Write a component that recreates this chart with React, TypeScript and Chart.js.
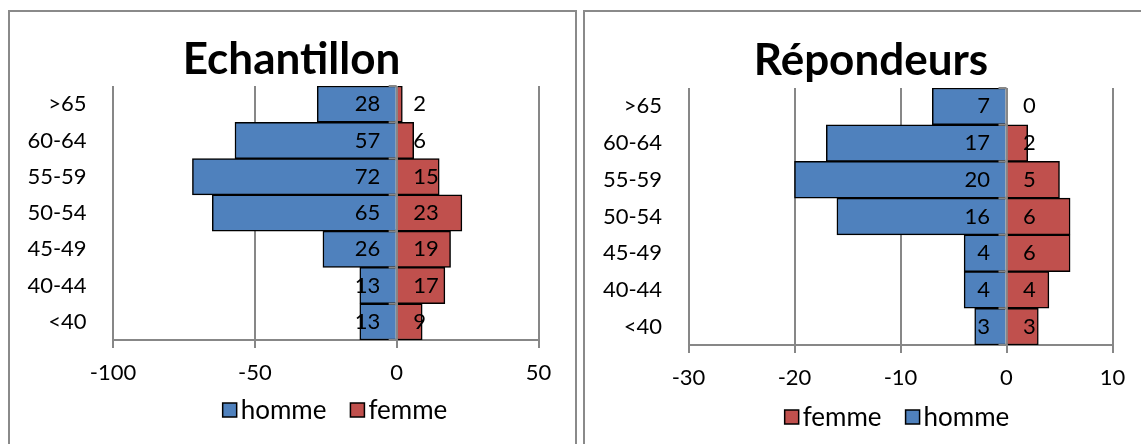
import React, { useEffect, useRef } from 'react';
import { Chart, registerables } from 'chart.js';

Chart.register(...registerables);

// ---- Data ----
const ageGroups = ['>65', '60-64', '55-59', '50-54', '45-49', '40-44', '<40'];

const echantillonHomme = [28, 57, 72, 65, 26, 13, 13];
const echantillonFemme = [2, 6, 15, 23, 19, 17, 9];
const echantillonTicks = [-100, -50, 0, 50];

const repondeursHomme = [7, 17, 20, 16, 4, 4, 3];
const repondeursFemme = [0, 2, 5, 6, 6, 4, 3];
const repondeursTicks = [-30, -20, -10, 0, 10];

// ---- Styles ----
const BLUE = '#4F81BD';
const RED = '#C0504D';
const GRID = '#878787';
const FONT = 'Lato, Carlito, Calibri, "Noto Sans", sans-serif';

type Layout = {
  W: number;
  H: number;
  padT: number;
  padR: number;
  padB: number;
  yW: number;
  xH: number;
  titleX: number;
  titleY: number;
  legendX: number;
  legendY: number;
};

type Spec = {
  title: string;
  homme: number[];
  femme: number[];
  ticks: number[];
  legendOrder: string[];
  layout: Layout;
};

const zeroAxisPlugin = {
  id: 'zeroAxis',
  afterDatasetsDraw(chart: any) {
    const { ctx, chartArea } = chart;
    const xs = chart.scales.x;
    const ys = chart.scales.y;
    const x0 = xs.getPixelForValue(0);
    ctx.save();
    ctx.strokeStyle = GRID;
    ctx.lineWidth = 2;
    ctx.beginPath();
    ctx.moveTo(x0, chartArea.top);
    ctx.lineTo(x0, chartArea.bottom);
    ctx.stroke();
    const n = ys.ticks.length;
    const bounds: number[] = [chartArea.top];
    for (let i = 0; i < n - 1; i++) {
      bounds.push((ys.getPixelForTick(i) + ys.getPixelForTick(i + 1)) / 2);
    }
    bounds.push(chartArea.bottom);
    ctx.beginPath();
    for (const b of bounds) {
      ctx.moveTo(x0 - 8, b);
      ctx.lineTo(x0, b);
    }
    ctx.stroke();
    ctx.restore();
  },
};

const dataLabelPlugin = {
  id: 'dataLabels',
  afterDatasetsDraw(chart: any) {
    const { ctx } = chart;
    const xs = chart.scales.x;
    const x0 = xs.getPixelForValue(0);
    ctx.save();
    ctx.font = `22px ${FONT}`;
    ctx.fillStyle = '#000';
    ctx.textBaseline = 'middle';
    chart.data.datasets.forEach((ds: any, di: number) => {
      const meta = chart.getDatasetMeta(di);
      const isHomme = ds.label === 'homme';
      ctx.textAlign = isHomme ? 'right' : 'left';
      meta.data.forEach((el: any, i: number) => {
        const v = Math.abs(ds.data[i]);
        ctx.fillText(String(v), isHomme ? x0 - 16.5 : x0 + 16.5, el.y);
      });
    });
    ctx.restore();
  },
};

function makeTitlePlugin(text: string, x: number, y: number) {
  return {
    id: 'customTitle',
    afterDraw(chart: any) {
      const { ctx } = chart;
      ctx.save();
      ctx.font = `bold 44px ${FONT}`;
      ctx.fillStyle = '#000';
      ctx.textAlign = 'center';
      ctx.textBaseline = 'middle';
      ctx.fillText(text, x, y);
      ctx.restore();
    },
  };
}

function makeLegendPlugin(order: string[], cx: number, cy: number) {
  return {
    id: 'customLegend',
    afterDraw(chart: any) {
      const { ctx } = chart;
      ctx.save();
      ctx.font = `26px ${FONT}`;
      ctx.textBaseline = 'middle';
      ctx.textAlign = 'left';
      const box = 14;
      const gap = 4;
      const itemGap = 24;
      const items = order.map((name) => {
        const ds = chart.data.datasets.find((d: any) => d.label === name);
        return { name, color: ds.backgroundColor, w: ctx.measureText(name).width };
      });
      const total =
        items.reduce((s, it) => s + box + gap + it.w, 0) + itemGap * (items.length - 1);
      let x = cx - total / 2;
      for (const it of items) {
        ctx.fillStyle = it.color;
        ctx.fillRect(x, cy - box / 2, box, box);
        ctx.strokeStyle = '#000';
        ctx.lineWidth = 1.5;
        ctx.strokeRect(x, cy - box / 2, box, box);
        ctx.fillStyle = '#000';
        ctx.fillText(it.name, x + box + gap, cy + 1);
        x += box + gap + it.w + itemGap;
      }
      ctx.restore();
    },
  };
}

function buildConfig(spec: Spec): any {
  const L = spec.layout;
  const t = spec.ticks;
  const bar = {
    barPercentage: 1,
    categoryPercentage: 1,
    borderColor: '#000',
    borderWidth: 1.5,
    borderSkipped: 'start',
  };
  return {
    type: 'bar',
    data: {
      labels: ageGroups,
      datasets: [
        { label: 'homme', data: spec.homme.map((v) => -v), backgroundColor: BLUE, ...bar },
        { label: 'femme', data: spec.femme, backgroundColor: RED, ...bar },
      ],
    },
    options: {
      indexAxis: 'y',
      animation: false,
      responsive: false,
      devicePixelRatio: 1,
      events: [],
      layout: { padding: { left: 0, right: L.padR, top: L.padT, bottom: L.padB } },
      plugins: {
        title: { display: false },
        legend: { display: false },
        tooltip: { enabled: false },
      },
      scales: {
        x: {
          type: 'linear',
          stacked: true,
          min: t[0],
          max: t[t.length - 1],
          ticks: {
            stepSize: t[1] - t[0],
            color: '#000',
            font: { family: FONT, size: 22 },
            padding: 12,
            maxRotation: 0,
            autoSkip: false,
            callback: (v: any) => String(v),
          },
          grid: { color: GRID, lineWidth: 2, drawTicks: true, tickLength: 8 },
          border: { display: true, color: GRID, width: 2 },
          afterFit: (s: any) => {
            s.height = L.xH;
          },
        },
        y: {
          type: 'category',
          stacked: true,
          ticks: { color: '#000', font: { family: FONT, size: 22 }, padding: 26.4 },
          grid: { display: false, drawTicks: false },
          border: { display: false },
          afterFit: (s: any) => {
            s.width = L.yW;
          },
        },
      },
    },
    plugins: [
      zeroAxisPlugin,
      dataLabelPlugin,
      makeTitlePlugin(spec.title, L.titleX, L.titleY),
      makeLegendPlugin(spec.legendOrder, L.legendX, L.legendY),
    ],
  };
}

function PyramidChart({ spec }: { spec: Spec }) {
  const ref = useRef<HTMLCanvasElement | null>(null);
  useEffect(() => {
    if (!ref.current) return;
    const chart = new Chart(ref.current, buildConfig(spec));
    let alive = true;
    if ((document as any).fonts && (document as any).fonts.load) {
      Promise.all([
        (document as any).fonts.load(`22px Lato`),
        (document as any).fonts.load(`bold 44px Lato`),
      ])
        .then(() => {
          if (alive) chart.update();
        })
        .catch(() => {});
    }
    return () => {
      alive = false;
      chart.destroy();
    };
  }, [spec]);
  const L = spec.layout;
  return (
    <canvas
      ref={ref}
      width={L.W}
      height={L.H}
      style={{ position: 'absolute', left: 0, top: 0, width: L.W, height: L.H }}
    />
  );
}

const echantillonSpec: Spec = {
  title: 'Echantillon',
  homme: echantillonHomme,
  femme: echantillonFemme,
  ticks: echantillonTicks,
  legendOrder: ['homme', 'femme'],
  layout: {
    W: 565,
    H: 432,
    padT: 74,
    padR: 36.5,
    padB: 44,
    yW: 103,
    xH: 60,
    titleX: 281.5,
    titleY: 48,
    legendX: 325,
    legendY: 398,
  },
};

const repondeursSpec: Spec = {
  title: 'Répondeurs',
  homme: repondeursHomme,
  femme: repondeursFemme,
  ticks: repondeursTicks,
  legendOrder: ['femme', 'homme'],
  layout: {
    W: 556,
    H: 432,
    padT: 76,
    padR: 28.5,
    padB: 39,
    yW: 103.5,
    xH: 60,
    titleX: 286,
    titleY: 49,
    legendX: 312,
    legendY: 405,
  },
};

const boxStyle = (left: number, width: number): React.CSSProperties => ({
  position: 'absolute',
  left,
  top: 10,
  width,
  height: 460,
  border: '2px solid #8a8a8a',
  boxSizing: 'border-box',
  background: '#fff',
});

export default function App() {
  return (
    <div
      style={{
        position: 'absolute',
        left: 0,
        top: 0,
        width: 1141,
        height: 444,
        overflow: 'hidden',
        background: '#fff',
      }}
    >
      <div style={boxStyle(8, 569)}>
        <PyramidChart spec={echantillonSpec} />
      </div>
      <div style={boxStyle(583, 600)}>
        <PyramidChart spec={repondeursSpec} />
      </div>
    </div>
  );
}
